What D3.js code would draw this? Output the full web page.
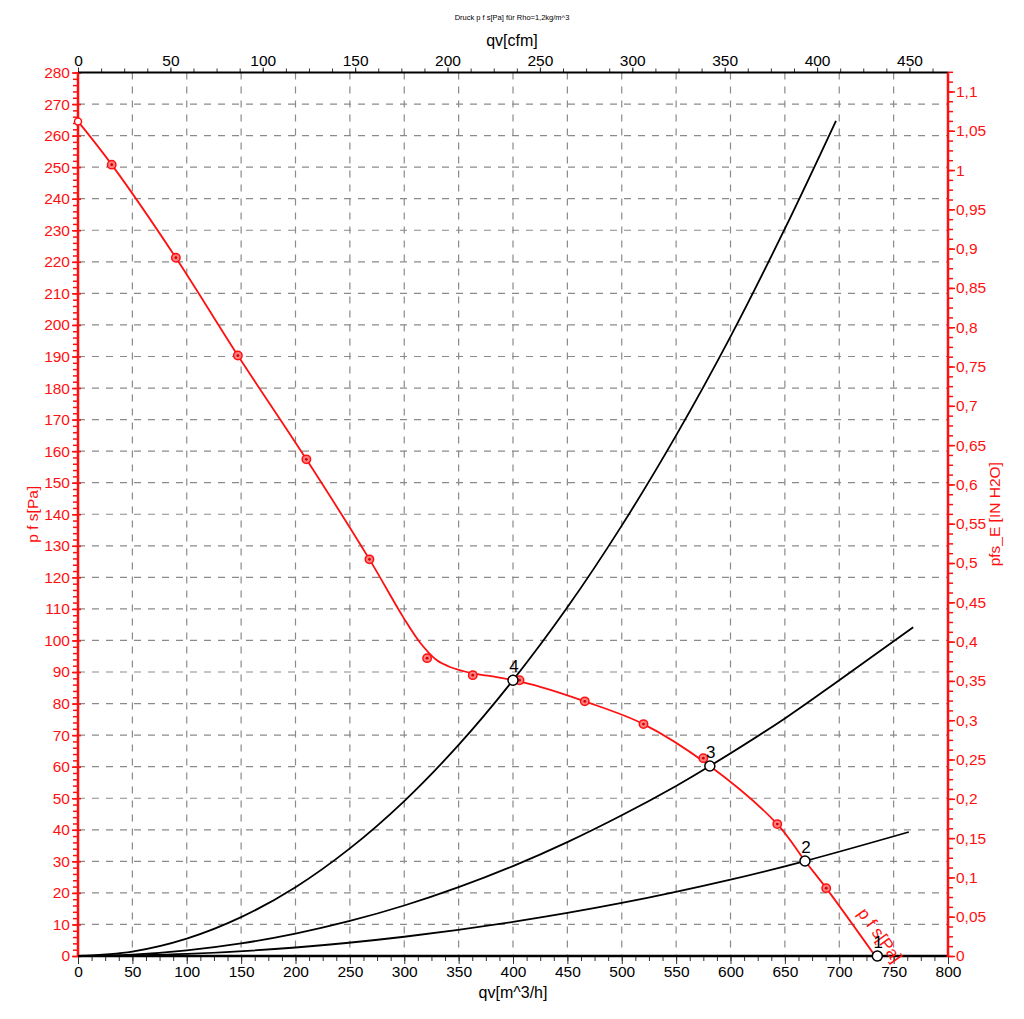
<!DOCTYPE html>
<html><head><meta charset="utf-8">
<script src="https://cdn.jsdelivr.net/npm/d3@7/dist/d3.min.js"></script>
<style>
html,body{margin:0;padding:0;background:#fff;}
svg text{font-family:"Liberation Sans",Arial,sans-serif;}
</style></head>
<body><svg id="chart" width="1024" height="1019"></svg>
<script>
// ---- data ----
const title = "Druck p f s[Pa] für Rho=1,2kg/m^3";
const xTicks = [0,50,100,150,200,250,300,350,400,450,500,550,600,650,700,750,800];
const yTicks = [0,10,20,30,40,50,60,70,80,90,100,110,120,130,140,150,160,170,180,190,200,210,220,230,240,250,260,270,280];
const cfmTicks = [0,50,100,150,200,250,300,350,400,450];
const inTicks = [0,0.05,0.1,0.15,0.2,0.25,0.3,0.35,0.4,0.45,0.5,0.55,0.6,0.65,0.7,0.75,0.8,0.85,0.9,0.95,1,1.05,1.1];

// fan curve p_fs [Pa] vs qv [m^3/h]
const fanQ  = [0,31,90,147,210,268,299,315,330,342,363,385,400,425,466,520,581,643,668.5,688,733];
const fanP  = [264.5,250.8,221.3,190.3,157.4,125.7,107.4,99.1,93.7,91.6,89.6,88.4,87.4,85.3,80.7,73.5,60.2,41.8,30.1,21.5,0];
// measured points on the fan curve
const measQ = [31,90,147,210,268,321,363,406,466,520,575,643,688];
const measP = [250.8,221.3,190.3,157.4,125.7,94.4,89,87.4,80.7,73.5,62.7,41.8,21.5];

// system curves
const sys4Q = [0,50,100,150,200,250,300,350,400,450,500,550,600,650,697];
const sys4P = [0,1.4,5.5,12.3,21.8,34.1,49.1,66.9,87.4,110.5,136.4,165,196.3,230.5,264.7];
const sys3Q = [0,50,100,150,200,250,300,350,400,450,500,550,581,650,700,768];
const sys3P = [0,0.45,1.8,4.0,7.1,11.1,16,21.8,28.5,36.1,44.6,53.9,60.2,75.3,87.4,104.2];
const sys2Q = [0,100,200,300,400,500,600,668.5,764];
const sys2P = [0,0.67,2.7,6.1,10.8,16.8,24.2,30.1,39.3];
const sys1Q = [0,764];
const sys1P = [0,0];

// operating points
const opLabel = ["1","2","3","4"];
const opQ = [735,668.5,581,400];
const opP = [0,30.1,60.2,87.4];

// ---- drawing ----
const RED = "#ff1010";
const svg = d3.select("#chart");
const L=78, R=948, T=72.5, B=956;
const x = d3.scaleLinear().domain([0,800]).range([L,R]);
const y = d3.scaleLinear().domain([0,280]).range([B,T]);
const xc = d3.scaleLinear().domain([0,800/1.699]).range([L,R]);
const yi = d3.scaleLinear().domain([0,280/249.089]).range([B,T]);

// grid
const g = svg.append("g");
g.selectAll(".vg").data(xTicks.filter(d=>d>0&&d<800)).join("line")
 .attr("x1",d=>x(d)).attr("x2",d=>x(d)).attr("y1",T).attr("y2",B)
 .attr("stroke","#8a8a8a").attr("stroke-width",1.2).attr("stroke-dasharray","7,7");
g.selectAll(".hg").data(yTicks.filter(d=>d>0&&d<280)).join("line")
 .attr("y1",d=>y(d)).attr("y2",d=>y(d)).attr("x1",L).attr("x2",R)
 .attr("stroke","#8a8a8a").attr("stroke-width",1.2).attr("stroke-dasharray","7,7");

// bottom axis
const bx = svg.append("g").attr("transform",`translate(0,${B})`)
 .call(d3.axisBottom(x).tickValues(d3.range(0,800.1,12.5)).tickSize(5).tickFormat(""));
bx.select(".domain").remove();
bx.selectAll("line").attr("stroke","#333");
const bx2 = svg.append("g").attr("transform",`translate(0,${B})`)
 .call(d3.axisBottom(x).tickValues(xTicks).tickSize(8).tickPadding(2));
bx2.select(".domain").remove();
bx2.selectAll("line").attr("stroke","#333");
bx2.selectAll("text").attr("font-size",15.5).attr("fill","#000").attr("font-family","Liberation Sans, Arial");

// top axis (cfm)
const tx = svg.append("g").attr("transform",`translate(0,${T})`)
 .call(d3.axisTop(xc).tickValues(d3.range(0,471,12.5)).tickSize(4).tickFormat(""));
tx.select(".domain").remove();
tx.selectAll("line").attr("stroke","#333");
const tx2 = svg.append("g").attr("transform",`translate(0,${T})`)
 .call(d3.axisTop(xc).tickValues(cfmTicks).tickSize(5).tickPadding(2));
tx2.select(".domain").remove();
tx2.selectAll("line").attr("stroke","#333");
tx2.selectAll("text").attr("font-size",15.5).attr("fill","#000").attr("font-family","Liberation Sans, Arial");

// left axis
const ly = svg.append("g").attr("transform",`translate(${L},0)`)
 .call(d3.axisLeft(y).tickValues(d3.range(0,280.1,2)).tickSize(5).tickFormat(""));
ly.select(".domain").remove();
ly.selectAll("line").attr("stroke",RED).attr("stroke-width",1.5);
const ly2 = svg.append("g").attr("transform",`translate(${L},0)`)
 .call(d3.axisLeft(y).tickValues(yTicks).tickSize(7).tickPadding(1));
ly2.select(".domain").remove();
ly2.selectAll("line").attr("stroke",RED).attr("stroke-width",1.5).attr("x2",-6).attr("x1",3);
ly2.selectAll("text").attr("font-size",15.5).attr("fill",RED).attr("font-family","Liberation Sans, Arial");

// right axis
const ry = svg.append("g").attr("transform",`translate(${R},0)`)
 .call(d3.axisRight(yi).tickValues(d3.range(0,1.1251,0.0125)).tickSize(5).tickFormat(""));
ry.select(".domain").remove();
ry.selectAll("line").attr("stroke",RED).attr("stroke-width",1.5);
const fmtIn = d => (+d.toFixed(2)).toString().replace(".",",");
const ry2 = svg.append("g").attr("transform",`translate(${R},0)`)
 .call(d3.axisRight(yi).tickValues(inTicks).tickSize(7).tickPadding(1).tickFormat(fmtIn));
ry2.select(".domain").remove();
ry2.selectAll("line").attr("stroke",RED).attr("stroke-width",1.5);
ry2.selectAll("text").attr("font-size",15.5).attr("fill",RED).attr("font-family","Liberation Sans, Arial");

// frame lines
svg.append("line").attr("x1",L).attr("x2",R).attr("y1",T).attr("y2",T).attr("stroke","#000").attr("stroke-width",2);
svg.append("line").attr("x1",L).attr("x2",R).attr("y1",B).attr("y2",B).attr("stroke","#000").attr("stroke-width",2.5);
svg.append("line").attr("x1",L).attr("x2",L).attr("y1",T).attr("y2",B+1).attr("stroke",RED).attr("stroke-width",2.5);
svg.append("line").attr("x1",R).attr("x2",R).attr("y1",T).attr("y2",B+1).attr("stroke",RED).attr("stroke-width",2.5);

// system curves
const line = d3.line().x(d=>x(d[0])).y(d=>y(d[1])).curve(d3.curveCatmullRom);
const sysSets = [[sys1Q,sys1P],[sys2Q,sys2P],[sys3Q,sys3P],[sys4Q,sys4P]];
sysSets.forEach(([q,p])=>{
  svg.append("path").datum(q.map((v,i)=>[v,p[i]])).attr("d",line)
   .attr("fill","none").attr("stroke","#000").attr("stroke-width",1.8);
});

// fan curve
svg.append("path").datum(fanQ.map((v,i)=>[v,fanP[i]])).attr("d",line)
 .attr("fill","none").attr("stroke",RED).attr("stroke-width",1.8);
// start point (small open circle)
svg.append("circle").attr("cx",x(fanQ[0])).attr("cy",y(fanP[0])).attr("r",3.5)
 .attr("fill","#fff").attr("stroke",RED).attr("stroke-width",1.5);

// measured markers
const mk = svg.append("g");
measQ.forEach((q,i)=>{
  mk.append("circle").attr("cx",x(q)).attr("cy",y(measP[i])).attr("r",4.2)
    .attr("fill","#ff8080").attr("stroke",RED).attr("stroke-width",1.5);
  mk.append("circle").attr("cx",x(q)).attr("cy",y(measP[i])).attr("r",1.4).attr("fill","#d00000");
});

// fan curve label
{
  const a = Math.atan2(y(0)-y(21.5), x(733)-x(688))*180/Math.PI;
  svg.append("text").attr("transform",`translate(879,936) rotate(${a})`)
   .attr("text-anchor","middle").attr("dominant-baseline","middle")
   .attr("font-size",17).attr("fill",RED).text("p f s[Pa]");
}

// operating points
opQ.forEach((q,i)=>{
  svg.append("circle").attr("cx",x(q)).attr("cy",y(opP[i])).attr("r",5)
   .attr("fill","#fff").attr("stroke","#000").attr("stroke-width",1.5);
  svg.append("text").attr("x",x(q)+1).attr("y",y(opP[i])-8)
   .attr("text-anchor","middle").attr("font-size",17).attr("fill","#000").text(opLabel[i]);
});

// titles
svg.append("text").attr("x",512).attr("y",20).attr("text-anchor","middle")
 .attr("font-size",7.5).attr("fill","#000").text(title);
svg.append("text").attr("x",512).attr("y",46).attr("text-anchor","middle")
 .attr("font-size",16).attr("fill","#000").text("qv[cfm]");
svg.append("text").attr("x",513).attr("y",998).attr("text-anchor","middle")
 .attr("font-size",16).attr("fill","#000").text("qv[m^3/h]");
svg.append("text").attr("transform",`translate(38,${(T+B)/2}) rotate(-90)`)
 .attr("text-anchor","middle").attr("font-size",15.5).attr("fill",RED).text("p f s[Pa]");
svg.append("text").attr("transform",`translate(1000,${(T+B)/2}) rotate(-90)`)
 .attr("text-anchor","middle").attr("font-size",15.5).attr("fill",RED).text("pfs_E [IN H2O]");
</script></body></html>
